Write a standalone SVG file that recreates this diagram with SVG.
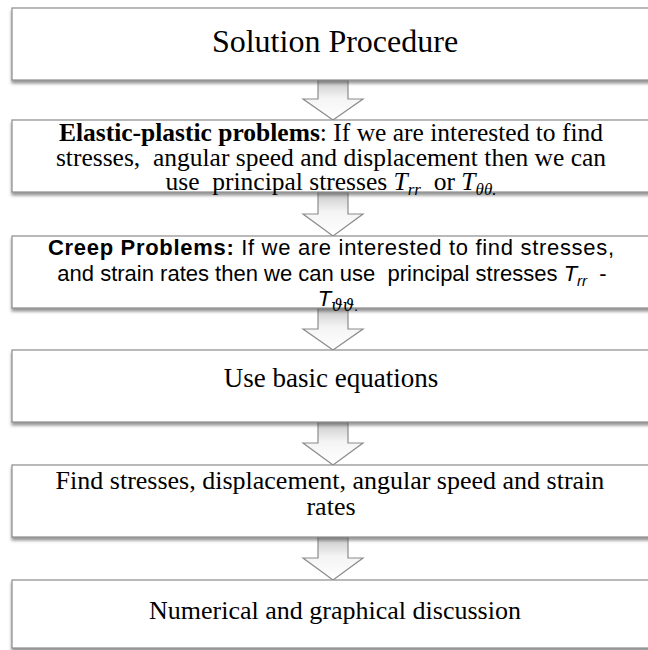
<svg xmlns="http://www.w3.org/2000/svg" width="648" height="650" viewBox="0 0 648 650">
<style>
.box{fill:#fff;stroke:#8c8c8c;stroke-width:1.2;filter:url(#sh)}
.arr{fill:url(#ag);stroke:#8c8c8c;stroke-width:1.2}
.tm{font-family:"Liberation Serif",serif;fill:#000}
.cb{font-family:"Liberation Sans",sans-serif;fill:#000}
.it{font-style:italic}
</style>
<defs>
<filter id="sh" x="-5%" y="-10%" width="110%" height="130%">
<feDropShadow dx="0" dy="3" stdDeviation="1.8" flood-color="#444" flood-opacity="0.55"/>
</filter>
<linearGradient id="ag" x1="0" y1="0" x2="0" y2="1">
<stop offset="0" stop-color="#c8c8c8"/>
<stop offset="0.45" stop-color="#f4f4f4"/>
<stop offset="1" stop-color="#ffffff"/>
</linearGradient>
</defs>
<g id="connectors">
<path class="arr" d="M318,80 H348 V99 H363 L333,120 L303,99 H318 Z"/>
<path class="arr" d="M318,192 H348 V214 H363 L333,236 L303,214 H318 Z"/>
<path class="arr" d="M318,308 H348 V329 H363 L333,350 L303,329 H318 Z"/>
<path class="arr" d="M318,422 H348 V443 H363 L333,465 L303,443 H318 Z"/>
<path class="arr" d="M318,537 H348 V558 H363 L333,580 L303,558 H318 Z"/>
</g>
<g id="n1">
<rect class="box" x="12" y="8" width="660" height="72"/>
<text class="tm" x="335" y="52" font-size="32" text-anchor="middle">Solution Procedure</text>
</g>
<g id="n2">
<rect class="box" x="12" y="120" width="660" height="72"/>
<text class="tm" x="331" y="141" font-size="25.5" text-anchor="middle"><tspan font-weight="bold">Elastic-plastic problems</tspan>: If we are interested to find</text>
<text class="tm" x="331" y="166" font-size="25.5" text-anchor="middle" xml:space="preserve">stresses,  angular speed and displacement then we can</text>
<text class="tm" x="331" y="190" font-size="25.5" text-anchor="middle" xml:space="preserve">use  principal stresses <tspan class="it">T</tspan><tspan class="it" font-size="17" dy="5">rr</tspan><tspan dy="-5">  or </tspan><tspan class="it">T</tspan><tspan class="it" font-size="17" dy="5">θθ.</tspan></text>
</g>
<g id="n3">
<rect class="box" x="12" y="236" width="660" height="72"/>
<text class="cb" x="331" y="255" font-size="22" text-anchor="middle" textLength="566"><tspan font-weight="bold">Creep Problems:</tspan> If we are interested to find stresses,</text>
<text class="cb" x="332" y="281" font-size="22" text-anchor="middle" xml:space="preserve">and strain rates then we can use  principal stresses <tspan class="it">T</tspan><tspan class="it" font-size="15" dy="5">rr</tspan><tspan dy="-5">  -</tspan></text>
<text class="cb" x="338" y="306" font-size="22" text-anchor="middle"><tspan class="it">T</tspan><tspan class="it" font-size="16" dy="5" font-family="DejaVu Serif,serif">ϑϑ</tspan><tspan font-size="15">.</tspan></text>
</g>
<g id="n4">
<rect class="box" x="12" y="350" width="660" height="72"/>
<text class="tm" x="331" y="387" font-size="27" text-anchor="middle">Use basic equations</text>
</g>
<g id="n5">
<rect class="box" x="12" y="465" width="660" height="72"/>
<text class="tm" x="330" y="489" font-size="26" text-anchor="middle">Find stresses, displacement, angular speed and strain</text>
<text class="tm" x="331" y="515" font-size="26" text-anchor="middle">rates</text>
</g>
<g id="n6">
<rect class="box" x="12" y="580" width="660" height="68"/>
<text class="tm" x="335" y="619" font-size="26" text-anchor="middle">Numerical and graphical discussion</text>
</g>
</svg>
